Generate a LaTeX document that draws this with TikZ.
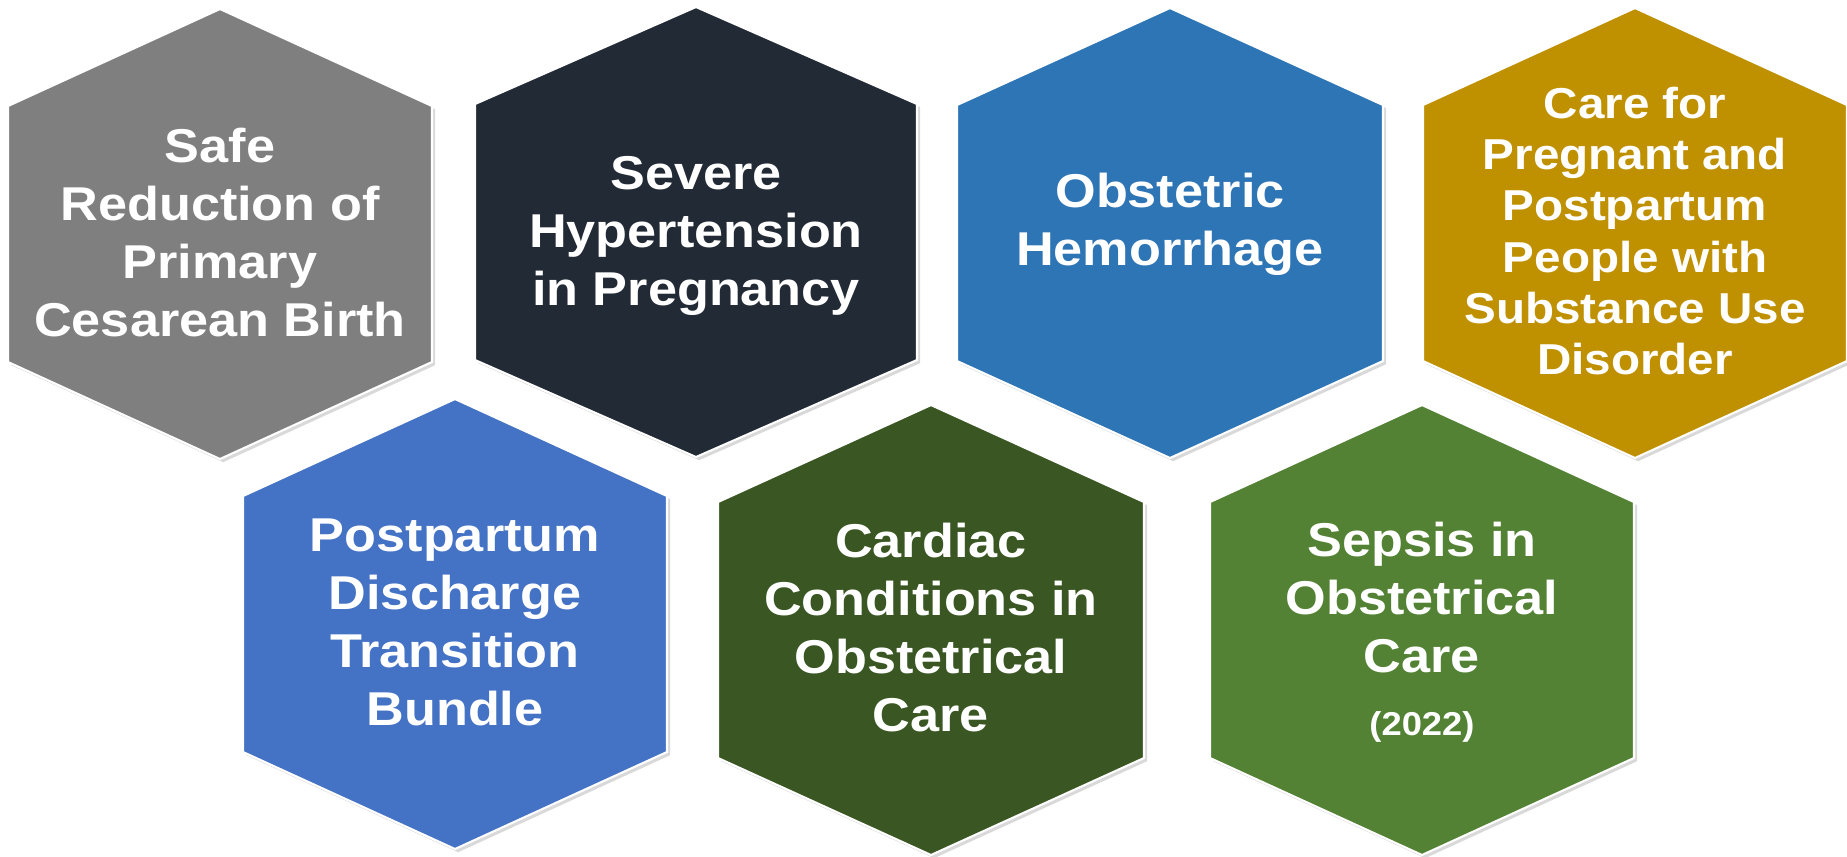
\documentclass[tikz,border=0pt]{standalone}
\usepackage{fontspec}
\setmainfont[FakeStretch=1.1]{Liberation Sans}
\usepackage{tikz}
\usetikzlibrary{shadows}

\definecolor{safegray}{HTML}{7F7F7F}
\definecolor{hypernavy}{HTML}{222A35}
\definecolor{hemoblue}{HTML}{2E75B6}
\definecolor{sudgold}{HTML}{BF9000}
\definecolor{dischargeblue}{HTML}{4472C4}
\definecolor{cardiacgreen}{HTML}{3A5723}
\definecolor{sepsisgreen}{HTML}{548235}

\tikzset{hexcell/.style={draw=white,line width=0.6pt,
           drop shadow={shadow xshift=0.9pt,shadow yshift=-0.9pt,opacity=0.3}},
         hextext/.style={anchor=north,inner sep=0pt,align=center,text=white,
           font=\bfseries\fontsize{13.5}{16.5}\selectfont}}

\begin{document}
\begin{tikzpicture}[x=0.01cm,y=-0.01cm]
  \useasboundingbox (0,0) rectangle (1847,856);

  % the seven bundles, top row then bottom row
  \foreach \cx/\cy/\hw/\col in {220/234/212/safegray, 696/232/221/hypernavy,
                                1170/233/213/hemoblue, 1635/233/212/sudgold,
                                455/624/212/dischargeblue, 931/630/213/cardiacgreen,
                                1422/630/212/sepsisgreen}
    \path[hexcell,fill=\col] (\cx,\cy-225) -- ++(\hw,97) -- ++(0,256)
         -- ++(-\hw,97) -- ++(-\hw,-97) -- ++(0,-256) -- cycle;

  \node[hextext] (safe)      at (220,127)  {Safe\\Reduction of\\Primary\\Cesarean Birth};
  \node[hextext] (hyper)     at (696,156)  {Severe\\Hypertension\\in Pregnancy};
  \node[hextext] (hemo)      at (1170,172) {Obstetric\\Hemorrhage};
  \node[hextext,font=\bfseries\fontsize{12.3}{14.6}\selectfont]
                 (sud)       at (1635,86)  {Care for\\Pregnant and\\Postpartum\\People with\\Substance Use\\Disorder};
  \node[hextext] (discharge) at (455,518)  {Postpartum\\Discharge\\Transition\\Bundle};
  \node[hextext] (cardiac)   at (931,522)  {Cardiac\\Conditions in\\Obstetrical\\Care};
  \node[hextext] (sepsis)    at (1422,521) {Sepsis in\\Obstetrical\\Care\\[1.4pt]{\fontsize{9.4}{11}\selectfont (2022)}};
\end{tikzpicture}
\end{document}
